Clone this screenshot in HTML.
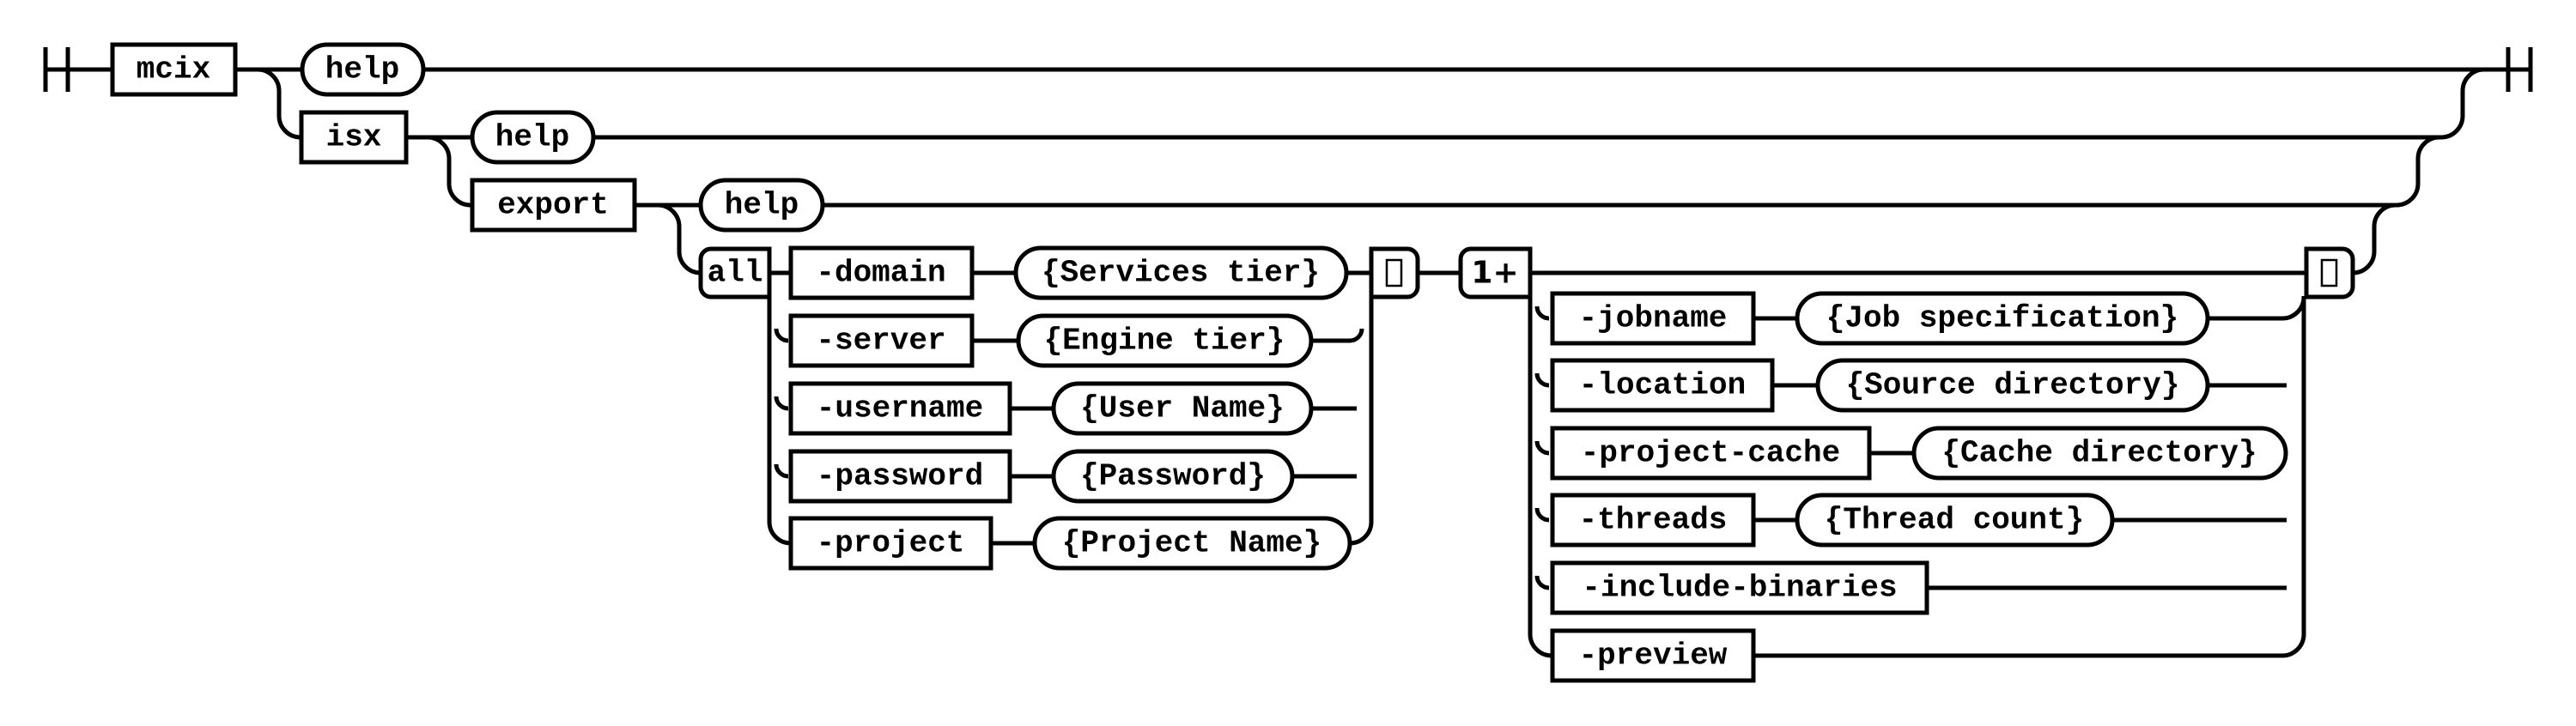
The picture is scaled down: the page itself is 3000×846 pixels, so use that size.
<!DOCTYPE html>
<html><head><meta charset="utf-8"><style>
html,body{margin:0;padding:0;background:#fff;}
svg{display:block}
text{font-family:"Liberation Mono",monospace;font-weight:bold;font-size:36px;fill:#000;}
</style></head><body>
<svg width="3000" height="846" viewBox="0 0 3000 846" xmlns="http://www.w3.org/2000/svg">
<g fill="none" stroke="#000" stroke-width="5">
<!-- start/end bars -->
<path d="M53 55V107M79 55V107M2921 55V107M2947 55V107"/>
<!-- row 0 -->
<path d="M53 81H131M274 81H352M493 81H2947"/>
<path d="M300 81A25 25 0 0 1 325 106V135A25 25 0 0 0 350 160"/>
<!-- row 1 -->
<path d="M473 160H550M691 160H2843"/>
<path d="M2843 160A25 25 0 0 0 2868 135V106A25 25 0 0 1 2893 81"/>
<path d="M498 160A25 25 0 0 1 523 185V214A25 25 0 0 0 548 239"/>
<!-- row 2 -->
<path d="M739 239H816M958 239H2791"/>
<path d="M2791 239A25 25 0 0 0 2816 214V185A25 25 0 0 1 2841 160"/>
<path d="M766 239A25 25 0 0 1 791 264V293A25 25 0 0 0 816 318"/>
<!-- row 3 -->
<path d="M896 318H921M1132 318H1183M1568 318H1597M1651 318H1701M1782 318H2686"/>
<path d="M2740 318A25 25 0 0 0 2765 293V264A25 25 0 0 1 2790 239"/>
<!-- all group rails -->
<path d="M896 318V608A25 25 0 0 0 921 633"/>
<path d="M1572 633A25 25 0 0 0 1597 608V345"/>
<path d="M1132 397H1186M1527 397H1572A14 14 0 0 0 1586 383"/>
<path d="M1176 476H1227M1527 476H1580"/>
<path d="M1176 555H1227M1505 555H1580"/>
<path d="M1154 633H1205"/>
<path d="M904 383A14 14 0 0 0 918 397M904 462A14 14 0 0 0 918 476M904 541A14 14 0 0 0 918 555"/>
<!-- 1+ group rails -->
<path d="M1782 318V739A25 25 0 0 0 1807 764"/>
<path d="M2042 764H2658A25 25 0 0 0 2683 739V345"/>
<path d="M2042 371H2093M2571 371H2658A25 25 0 0 0 2683 346"/>
<path d="M2064 449H2117M2571 449H2663"/>
<path d="M2177 528H2229"/>
<path d="M2042 606H2093M2460 606H2663"/>
<path d="M2244 685H2663"/>
<path d="M1790 357A14 14 0 0 0 1804 371M1790 435A14 14 0 0 0 1804 449M1790 514A14 14 0 0 0 1804 528M1790 592A14 14 0 0 0 1804 606M1790 671A14 14 0 0 0 1804 685"/>
</g>
<g fill="#fff" stroke="#000" stroke-width="5">
<!-- square boxes -->
<rect x="131" y="52" width="143" height="58"/>
<rect x="351" y="131" width="122" height="58"/>
<rect x="550" y="210" width="189" height="58"/>
<rect x="921" y="289" width="211" height="58"/>
<rect x="921" y="368" width="211" height="58"/>
<rect x="921" y="447" width="255" height="58"/>
<rect x="921" y="526" width="255" height="58"/>
<rect x="921" y="604" width="233" height="58"/>
<rect x="1808" y="342" width="234" height="58"/>
<rect x="1808" y="420" width="256" height="58"/>
<rect x="1808" y="499" width="369" height="58"/>
<rect x="1808" y="577" width="234" height="58"/>
<rect x="1808" y="656" width="436" height="58"/>
<rect x="1808" y="735" width="234" height="58"/>
<!-- pills -->
<rect x="352" y="52" width="141" height="58" rx="29"/>
<rect x="550" y="131" width="141" height="58" rx="29"/>
<rect x="816" y="210" width="142" height="58" rx="29"/>
<rect x="1183" y="289" width="385" height="58" rx="29"/>
<rect x="1186" y="368" width="341" height="58" rx="29"/>
<rect x="1227" y="447" width="300" height="58" rx="29"/>
<rect x="1227" y="526" width="278" height="58" rx="29"/>
<rect x="1205" y="604" width="367" height="58" rx="29"/>
<rect x="2093" y="342" width="478" height="58" rx="29"/>
<rect x="2117" y="420" width="454" height="58" rx="29"/>
<rect x="2229" y="499" width="433" height="58" rx="29"/>
<rect x="2093" y="577" width="367" height="58" rx="29"/>
<!-- rounded small boxes -->
<path d="M896 290H828A12 12 0 0 0 816 302V334A12 12 0 0 0 828 346H896Z"/>
<path d="M1597 290H1639A12 12 0 0 1 1651 302V334A12 12 0 0 1 1639 346H1597Z"/>
<path d="M1782 290H1713A12 12 0 0 0 1701 302V334A12 12 0 0 0 1713 346H1782Z"/>
<path d="M2686 290H2728A12 12 0 0 1 2740 302V334A12 12 0 0 1 2728 346H2686Z"/>
</g>
<g fill="none" stroke="#000" stroke-width="2.5">
<rect x="1615" y="303" width="17" height="30"/>
<rect x="2704" y="303" width="17" height="30"/>
</g>
<g text-anchor="middle" dominant-baseline="central">
<text x="202" y="81">mcix</text>
<text x="422" y="81">help</text>
<text x="412" y="160">isx</text>
<text x="620" y="160">help</text>
<text x="644" y="239">export</text>
<text x="887" y="239">help</text>
<text x="856" y="318">all</text>
<text x="1741" y="318" style="font-family:'DejaVu Sans',sans-serif">1+</text>
<text x="1026" y="318">-domain</text>
<text x="1375" y="318">{Services tier}</text>
<text x="1026" y="397">-server</text>
<text x="1356" y="397">{Engine tier}</text>
<text x="1048" y="476">-username</text>
<text x="1377" y="476">{User Name}</text>
<text x="1048" y="555">-password</text>
<text x="1366" y="555">{Password}</text>
<text x="1037" y="633">-project</text>
<text x="1388" y="633">{Project Name}</text>
<text x="1925" y="371">-jobname</text>
<text x="2332" y="371">{Job specification}</text>
<text x="1936" y="449">-location</text>
<text x="2344" y="449">{Source directory}</text>
<text x="1992" y="528">-project-cache</text>
<text x="2445" y="528">{Cache directory}</text>
<text x="1925" y="606">-threads</text>
<text x="2276" y="606">{Thread count}</text>
<text x="2026" y="685">-include-binaries</text>
<text x="1925" y="764">-preview</text>
</g>
</svg>
</body></html>
